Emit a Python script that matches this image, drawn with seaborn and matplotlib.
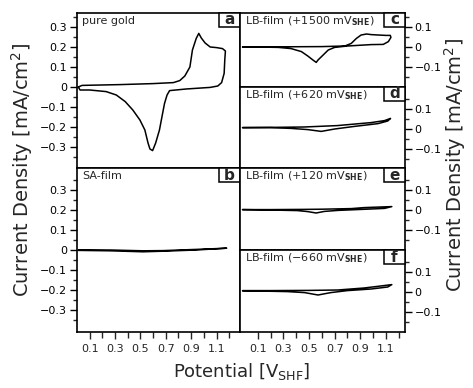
import matplotlib
matplotlib.use("Agg")
import matplotlib.pyplot as plt
from matplotlib.patches import Rectangle
from matplotlib.ticker import FixedLocator, FixedFormatter
import seaborn as sns
import pandas as pd

# ---------------- data (potential in V, current density in mA/cm^2) ----------------
pot_a = [0.01, 0.04, 0.34, 0.60, 0.76, 0.81, 0.85, 0.89, 0.91, 0.94, 0.96, 0.98, 1.01, 1.05, 1.10,
         1.147, 1.17, 1.165, 1.16, 1.14, 1.11, 1.05, 0.86, 0.73, 0.71, 0.69, 0.67, 0.65, 0.62, 0.596,
         0.575, 0.56, 0.535, 0.496, 0.44, 0.38, 0.31, 0.23, 0.10, 0.024, 0.01]
cur_a = [0.0, 0.008, 0.012, 0.017, 0.022, 0.032, 0.055, 0.10, 0.185, 0.243, 0.268, 0.245, 0.22, 0.20,
         0.197, 0.192, 0.18, 0.135, 0.068, 0.022, 0.005, -0.002, -0.01, -0.018, -0.04, -0.082, -0.148,
         -0.215, -0.28, -0.318, -0.31, -0.28, -0.215, -0.165, -0.115, -0.073, -0.04, -0.023, -0.015,
         -0.015, 0.0]

pot_b = [0.01, 0.26, 0.52, 0.68, 0.94, 1.18, 0.94, 0.68, 0.52, 0.26, 0.01]
cur_b = [0.0, 0.0, -0.004, -0.003, 0.003, 0.009, 0.0, -0.006, -0.009, -0.004, -0.002]

pot_c = [-0.02, 0.30, 0.60, 0.78, 0.83, 0.87, 0.907, 0.95, 0.985, 1.04, 1.10, 1.135, 1.14, 1.12, 1.08,
         0.985, 0.80, 0.70, 0.65, 0.61, 0.57, 0.556, 0.53, 0.49, 0.44, 0.36, 0.26, 0.10, -0.02]
cur_c = [0.0, 0.001, 0.002, 0.005, 0.018, 0.043, 0.06, 0.065, 0.062, 0.06, 0.058, 0.058, 0.048, 0.027,
         0.013, 0.012, 0.005, -0.002, -0.015, -0.04, -0.065, -0.077, -0.065, -0.045, -0.023, -0.008,
         -0.002, 0.0, 0.0]

pot_d = [-0.02, 0.20, 0.46, 0.72, 0.985, 1.09, 1.137, 1.115, 1.04, 0.855, 0.70, 0.595, 0.49, 0.36, 0.20, -0.02]
cur_d = [0.007, 0.008, 0.01, 0.017, 0.032, 0.042, 0.053, 0.04, 0.027, 0.013, 0.0, -0.012, -0.003, 0.003, 0.007, 0.007]

pot_e = [-0.02, 0.20, 0.45, 0.60, 0.83, 0.93, 1.06, 1.147, 1.09, 0.985, 0.725, 0.62, 0.555, 0.49, 0.41, 0.20, -0.02]
cur_e = [0.002, 0.002, 0.003, 0.004, 0.007, 0.012, 0.015, 0.017, 0.008, 0.005, -0.002, -0.007, -0.015,
         -0.008, -0.003, 0.0, 0.002]

pot_f = [-0.02, 0.20, 0.50, 0.725, 0.93, 1.06, 1.147, 1.115, 0.985, 0.80, 0.67, 0.57, 0.465, 0.33, 0.10, -0.02]
cur_f = [0.007, 0.007, 0.008, 0.01, 0.02, 0.03, 0.037, 0.025, 0.015, 0.007, -0.003, -0.015, -0.003,
         0.002, 0.005, 0.006]

panel_letters = ["a", "b", "c", "d", "e", "f"]
panel_titles = ["pure gold", "SA-film",
                r"LB-film (+1500 mV$_{\mathbf{SHE}}$)",
                r"LB-film (+620 mV$_{\mathbf{SHE}}$)",
                r"LB-film (+120 mV$_{\mathbf{SHE}}$)",
                r"LB-film (−660 mV$_{\mathbf{SHE}}$)"]

left_yticks = [0.3, 0.2, 0.1, 0.0, -0.1, -0.2, -0.3]
left_yticklabels = ["0.3", "0.2", "0.1", "0", "−0.1", "−0.2", "−0.3"]
right_yticks = [0.1, 0.0, -0.1]
right_yticklabels = ["0.1", "0", "−0.1"]
xticks = [0.1, 0.3, 0.5, 0.7, 0.9, 1.1]
xticklabels = ["0.1", "0.3", "0.5", "0.7", "0.9", "1.1"]
xminor = [0.2, 0.4, 0.6, 0.8, 1.0, 1.2]

# ---------------- figure ----------------
sns.set_style("ticks")
plt.rcParams["font.family"] = ["DejaVu Sans"]
plt.rcParams["mathtext.fontset"] = "dejavusans"

W, H = 473, 388
fig = plt.figure(figsize=(W / 100, H / 100), dpi=100)


def add_ax(x0, y_top, w, h):
    return fig.add_axes([x0 / W, 1 - (y_top + h) / H, w / W, h / H])


# pixel layout: (x0, ytop, w, h, ylim)
layout = [
    (77, 13, 163, 155, (-0.405, 0.37)),   # a
    (77, 168, 163, 164, (-0.41, 0.41)),   # b
    (240, 13, 165, 74, (-0.20, 0.17)),    # c
    (240, 87, 165, 81, (-0.195, 0.21)),   # d
    (240, 168, 165, 82, (-0.20, 0.21)),   # e
    (240, 250, 165, 82, (-0.20, 0.21)),   # f
]
pots = [pot_a, pot_b, pot_c, pot_d, pot_e, pot_f]
curs = [cur_a, cur_b, cur_c, cur_d, cur_e, cur_f]

for i, (x0, yt, w, h, ylim) in enumerate(layout):
    ax = add_ax(x0, yt, w, h)
    df = pd.DataFrame({"V": pots[i], "I": curs[i]})
    sns.lineplot(data=df, x="V", y="I", sort=False, estimator=None,
                 color="black", lw=1.1, ax=ax)
    ax.set_xlabel("")
    ax.set_ylabel("")
    right = i >= 2
    ax.set_xlim((0.0, 1.285) if not right else (-0.04, 1.25))
    ax.set_ylim(*ylim)
    for s in ax.spines.values():
        s.set_visible(True)
        s.set_linewidth(1.2)
        s.set_color("black")

    if right:
        ax.yaxis.tick_right()
        ax.yaxis.set_major_locator(FixedLocator(right_yticks))
        ax.yaxis.set_major_formatter(FixedFormatter(right_yticklabels))
        ax.yaxis.set_minor_locator(FixedLocator([0.15, 0.05, -0.05, -0.15]))
    else:
        ax.yaxis.set_major_locator(FixedLocator(left_yticks))
        ax.yaxis.set_major_formatter(FixedFormatter(left_yticklabels))
        ax.yaxis.set_minor_locator(FixedLocator([0.35, 0.25, 0.15, 0.05, -0.05, -0.15, -0.25, -0.35]))
    ax.tick_params(axis="y", which="major", direction="out", length=5, width=1.0,
                   labelsize=8, pad=2, colors="black")
    ax.tick_params(axis="y", which="minor", direction="out", length=3, width=1.0)

    if i in (1, 5):
        ax.xaxis.set_major_locator(FixedLocator(xticks))
        ax.xaxis.set_major_formatter(FixedFormatter(xticklabels))
        ax.xaxis.set_minor_locator(FixedLocator(xminor))
        ax.tick_params(axis="x", which="major", direction="out", length=5, width=1.0,
                       labelsize=8, pad=4)
        ax.tick_params(axis="x", which="minor", direction="out", length=4, width=1.0)
    else:
        ax.set_xticks([])
        ax.xaxis.set_minor_locator(FixedLocator([]))

    # panel title
    ax.text(5 / w, 1 - 8 / h, panel_titles[i], transform=ax.transAxes,
            ha="left", va="center", fontsize=8)

    # letter box in top-right corner
    bw, bh = 21 / w, 14 / h
    ax.add_patch(Rectangle((1 - bw, 1 - bh), bw, bh, transform=ax.transAxes,
                           facecolor="white", edgecolor="black", lw=1.1, zorder=5,
                           clip_on=False))
    ax.text(1 - bw / 2, 1 - bh / 2, panel_letters[i], transform=ax.transAxes,
            ha="center", va="center", fontsize=11, fontweight="bold", zorder=6)

fig.text(22 / W, 1 - 170 / H, "Current Density [mA/cm$^2$]", rotation=90,
         ha="center", va="center", fontsize=14)
fig.text(455 / W, 1 - 165 / H, "Current Density [mA/cm$^2$]", rotation=90,
         ha="center", va="center", fontsize=14)
fig.text(242 / W, 1 - 372 / H, "Potential [V$_{\\mathrm{SHF}}$]",
         ha="center", va="center", fontsize=13)

fig.savefig("out.png", dpi=100)
